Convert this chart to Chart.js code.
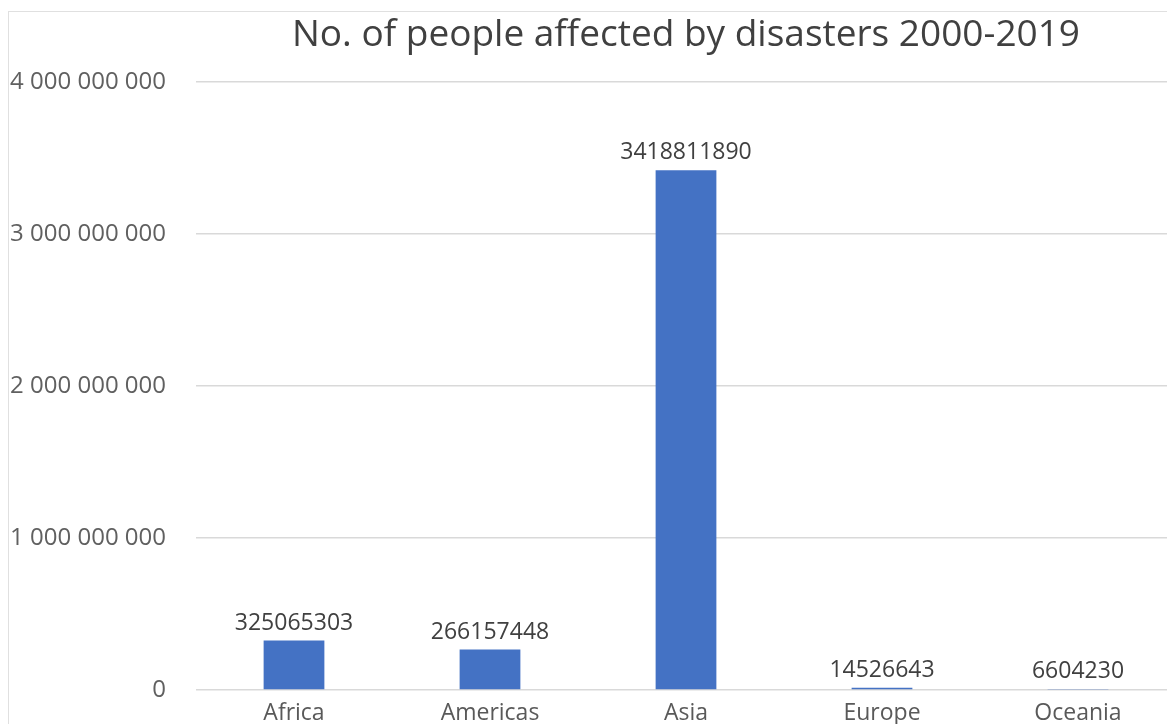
<!DOCTYPE html>
<html>
<head>
<meta charset="utf-8">
<script src="https://cdn.jsdelivr.net/npm/chart.js@4"></script>
<style>
  html, body { margin: 0; padding: 0; background: #fff; overflow: hidden; }
  #frame { position: absolute; left: 8px; top: 11px; width: 1200px; height: 740px; border: 1px solid #e0e0e0; }
  canvas { display: block; }
</style>
</head>
<body>
<div id="frame"><canvas id="chart" width="1167" height="730"></canvas></div>
<script>
const regions = ['Africa', 'Americas', 'Asia', 'Europe', 'Oceania'];
const affected = [325065303, 266157448, 3418811890, 14526643, 6604230];
const yTicks = [0, 1000000000, 2000000000, 3000000000, 4000000000];
const chartTitle = 'No. of people affected by disasters 2000-2019';

const FONT = "'Open Sans', sans-serif";

// values printed above each bar, title centred over the plot area
const barLabels = {
  id: 'barLabels',
  afterDatasetsDraw(chart) {
    const ctx = chart.ctx;
    const meta = chart.getDatasetMeta(0);
    const area = chart.chartArea;
    ctx.save();
    ctx.font = '23px ' + FONT;
    ctx.fillStyle = '#404040';
    ctx.textAlign = 'center';
    ctx.textBaseline = 'bottom';
    meta.data.forEach((bar, i) => {
      ctx.fillText(String(affected[i]), bar.x, bar.y - 6);
    });
    ctx.font = '37px ' + FONT;
    ctx.textBaseline = 'middle';
    ctx.fillText(chartTitle, (area.left + area.right) / 2, 23);
    ctx.restore();
  }
};

const fmt = (v) => String(v).replace(/\B(?=(\d{3})+(?!\d))/g, ' ');

new Chart(document.getElementById('chart').getContext('2d'), {
  type: 'bar',
  data: {
    labels: regions,
    datasets: [{
      data: affected,
      backgroundColor: '#4472c4',
      barPercentage: 0.31,
      categoryPercentage: 1.0,
    }],
  },
  options: {
    responsive: false,
    animation: false,
    layout: { padding: { top: 70 } },
    scales: {
      x: {
        grid: { display: false, drawTicks: false },
        border: { display: false },
        ticks: { color: '#595959', font: { family: FONT, size: 23 }, padding: 10 },
        afterFit: (s) => { s.height = 52; },
      },
      y: {
        min: 0,
        max: 4000000000,
        afterBuildTicks: (s) => { s.ticks = yTicks.map((v) => ({ value: v })); },
        grid: { color: '#d9d9d9', lineWidth: 1.5, drawTicks: false },
        border: { display: false },
        ticks: {
          color: '#606060',
          font: { family: FONT, size: 24 },
          padding: 30,
          callback: (v) => fmt(v),
        },
        afterFit: (s) => { s.width = 187; },
      },
    },
    plugins: {
      legend: { display: false },
      tooltip: { enabled: false },
      title: { display: false },
    },
  },
  plugins: [barLabels],
});
</script>
</body>
</html>
